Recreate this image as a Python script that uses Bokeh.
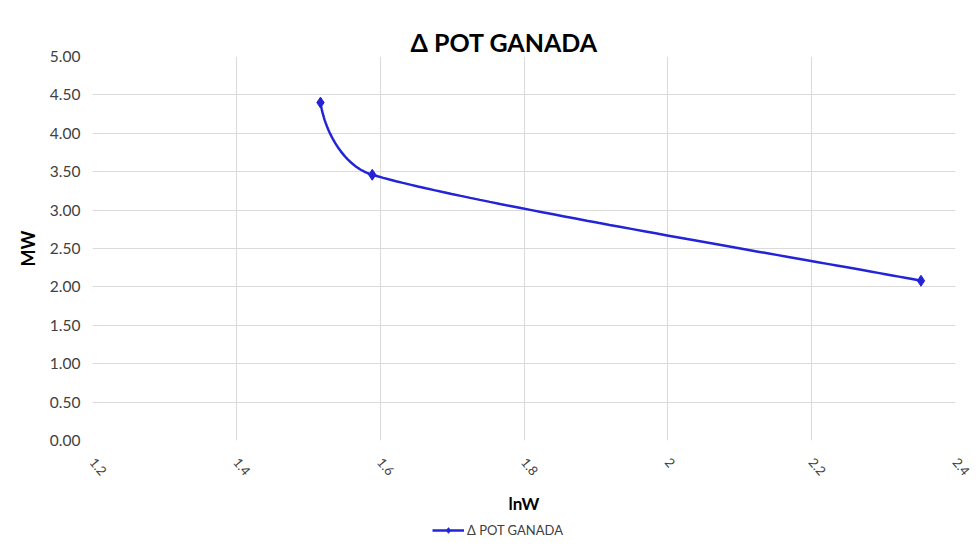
import math
import numpy as np
from bokeh.plotting import figure
from bokeh.layouts import column
from bokeh.models import Range1d, FixedTicker, Legend, LegendItem
from bokeh.embed import file_html
from bokeh.resources import INLINE

# ---- data ----
x_vals = [1.517, 1.589, 2.352]
y_vals = [4.40, 3.46, 2.08]
series_name = "\u0394 POT GANADA"
x_ticks = [1.2, 1.4, 1.6, 1.8, 2.0, 2.2, 2.4]
x_tick_labels = ["1.2", "1.4", "1.6", "1.8", "2", "2.2", "2.4"]
y_ticks = [0.0, 0.5, 1.0, 1.5, 2.0, 2.5, 3.0, 3.5, 4.0, 4.5, 5.0]
y_tick_labels = ["0.00", "0.50", "1.00", "1.50", "2.00", "2.50", "3.00", "3.50", "4.00", "4.50", "5.00"]

W, H, HL = 972, 516, 26
ML, MR, MT = 92, 17, 56
MB = H - 440
FW, FH = W - ML - MR, H - MT - MB
X0, X1, Y0, Y1 = 1.2, 2.4, 0.0, 5.0

# ---- smoothed line (Excel-like Bezier smoothing) computed from the data ----
sx = FW / (X1 - X0)
sy = FH / (Y1 - Y0)
P = np.column_stack([(np.array(x_vals) - X0) * sx, (np.array(y_vals) - Y0) * sy])
n = len(P)
T = np.zeros_like(P)
for i in range(1, n - 1):
    T[i] = (P[i + 1] - P[i - 1]) / 6.0

def unit(v):
    return v / np.linalg.norm(v)

curve = []
for i in range(n - 1):
    a, b = P[i], P[i + 1]
    L = np.linalg.norm(b - a)
    if i + 1 < n - 1:
        d = T[i + 1]
        if np.linalg.norm(d) > L / 3:
            d = unit(d) * L / 3
        c2 = b - d
    else:
        c2 = b - (b - a) / 6.0
    if i > 0:
        d = T[i]
        if np.linalg.norm(d) > L / 3:
            d = unit(d) * L / 3
        c1 = a + d
    else:
        u_seg = unit(b - a)
        u_next = unit(b - c2)
        c1 = a + unit(2 * u_seg - u_next) * L / 3
    t = np.linspace(0, 1, 60)[:, None]
    seg = ((1 - t) ** 3) * a + 3 * ((1 - t) ** 2) * t * c1 + 3 * (1 - t) * t ** 2 * c2 + t ** 3 * b
    curve.append(seg if i == 0 else seg[1:])
curve = np.vstack(curve)
cx = curve[:, 0] / sx + X0
cy = curve[:, 1] / sy + Y0

BLUE = "#2323d8"
FONT = "Lato"

p = figure(width=W, height=H, output_backend="svg", toolbar_location=None,
           x_range=Range1d(X0, X1), y_range=Range1d(Y0, Y1),
           min_border_left=ML, min_border_right=MR, min_border_top=MT, min_border_bottom=MB,
           title=series_name)
p.title.align = "left"
p.title.text_font = FONT
p.title.text_font_size = "25px"
p.title.text_font_style = "bold"
p.title.text_color = "#000000"
p.title.offset = 318
p.title.standoff = 0

p.outline_line_color = None
p.background_fill_color = "white"
p.border_fill_color = "white"

p.xgrid.ticker = FixedTicker(ticks=x_ticks)
p.ygrid.ticker = FixedTicker(ticks=y_ticks)
p.xgrid.grid_line_color = "#dadada"
p.ygrid.grid_line_color = "#dadada"

p.xaxis.ticker = FixedTicker(ticks=x_ticks)
p.yaxis.ticker = FixedTicker(ticks=y_ticks)
p.xaxis.major_label_overrides = {t: s for t, s in zip(x_ticks, x_tick_labels)}
p.yaxis.major_label_overrides = {t: s for t, s in zip(y_ticks, y_tick_labels)}
for ax in (p.xaxis, p.yaxis):
    ax.axis_line_color = None
    ax.major_tick_line_color = None
    ax.minor_tick_line_color = None
    ax.major_label_text_font = FONT
    ax.major_label_text_color = "#404040"
    ax.axis_label_text_font = FONT
    ax.axis_label_text_font_style = "bold"
    ax.axis_label_text_color = "#000000"
p.yaxis.major_tick_out = 0
p.yaxis.major_label_text_font_size = "15.5px"
p.xaxis.major_label_text_font_size = "13px"
p.xaxis.major_label_orientation = -math.radians(50)
p.yaxis.major_label_standoff = 12
p.xaxis.major_label_standoff = 13
p.xaxis.axis_label = "lnW"
p.yaxis.axis_label = "MW"
p.xaxis.axis_label_text_font_size = "17px"
p.yaxis.axis_label_text_font_size = "18px"
p.xaxis.axis_label_standoff = 10
p.yaxis.axis_label_standoff = 8

p.line(cx, cy, line_color=BLUE, line_width=2.5)
p.scatter(x_vals, y_vals, marker="diamond", size=11, fill_color=BLUE, line_color=BLUE)

# ---- legend strip below the chart (its keys reuse the data; none fall inside its range) ----
p2 = figure(width=W, height=HL, output_backend="svg", toolbar_location=None,
            x_axis_type=None, y_axis_type=None, x_range=Range1d(0, 1), y_range=Range1d(0, 1),
            min_border=0, min_border_left=0, min_border_right=0, min_border_top=0, min_border_bottom=0)
p2.outline_line_color = None
p2.grid.visible = False
p2.border_fill_color = "white"
lg_line = p2.line(x_vals, y_vals, line_color=BLUE, line_width=2.5)
lg_mk = p2.scatter(x_vals, y_vals, marker="diamond", size=9, fill_color=BLUE, line_color=BLUE)
legend = Legend(items=[LegendItem(label=series_name, renderers=[lg_line, lg_mk])],
                location=(340, 4), orientation="horizontal",
                label_text_font=FONT, label_text_font_size="13px", label_text_color="#404040",
                glyph_width=32, glyph_height=14, label_standoff=3,
                padding=2, margin=0, border_line_color=None, background_fill_alpha=0)
p2.add_layout(legend, "center")

layout = column(p, p2, spacing=0)
open("out.html", "w").write(file_html(layout, INLINE))
